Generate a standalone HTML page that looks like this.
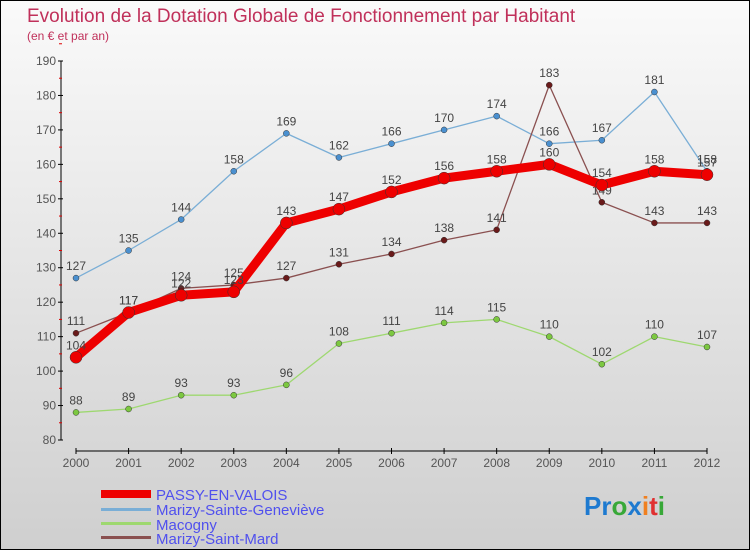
<!DOCTYPE html>
<html><head><meta charset="utf-8"><style>
body{margin:0}
#c{position:relative;width:748px;height:548px;border:1px solid #000;background:linear-gradient(#fafafa,#cfcfcf);font-family:"Liberation Sans",sans-serif;overflow:hidden}
</style></head><body>
<div id="c">
<svg id="s" width="748" height="548" style="position:absolute;left:0;top:0" font-family="Liberation Sans, sans-serif">
<text x="26" y="21" font-size="19" fill="#c0305a">Evolution de la Dotation Globale de Fonctionnement par Habitant</text>
<text x="26" y="39" font-size="12" fill="#c0305a">(en € et par an)</text>
<g id="axes"></g><g id="series"></g>
<g>
<rect x="100" y="489" width="50" height="8" fill="#e00"/>
<text x="155" y="499" font-size="15" fill="#5050ee">PASSY-EN-VALOIS</text>
<rect x="100" y="507" width="50" height="3" fill="#7aaed6"/>
<text x="155" y="514" font-size="15" fill="#5050ee">Marizy-Sainte-Geneviève</text>
<rect x="100" y="521" width="50" height="3" fill="#9ed870"/>
<text x="155" y="529" font-size="15" fill="#5050ee">Macogny</text>
<rect x="100" y="535" width="50" height="3" fill="#8a5050"/>
<text x="155" y="543" font-size="15" fill="#5050ee">Marizy-Saint-Mard</text>
</g>
<text x="583" y="514" font-size="26" font-weight="bold"><tspan fill="#1e7ad0">Pr</tspan><tspan fill="#38a838">o</tspan><tspan fill="#1e7ad0">x</tspan><tspan fill="#f08020">i</tspan><tspan fill="#e03030">t</tspan><tspan fill="#38a838">i</tspan></text>
</svg>
</div>
<script>
const years=[2000,2001,2002,2003,2004,2005,2006,2007,2008,2009,2010,2011,2012];
const yTicks=[80,90,100,110,120,130,140,150,160,170,180,190];
const passy=[104,117,122,123,143,147,152,156,158,160,154,158,157];
const marizySG=[127,135,144,158,169,162,166,170,174,166,167,181,158];
const macogny=[88,89,93,93,96,108,111,114,115,110,102,110,107];
const marizySM=[111,117,124,125,127,131,134,138,141,183,149,143,143];
const NS="http://www.w3.org/2000/svg";
const X=i=>75+i*(706-75)/12;
const Y=v=>439-(v-80)*(379/110);
function mk(t,a,p){const e=document.createElementNS(NS,t);for(const k in a)e.setAttribute(k,a[k]);p.appendChild(e);return e;}
const ax=document.getElementById('axes');
const yl=mk('line',{x1:60,y1:Y(190),x2:60,y2:Y(80),stroke:'#000'},ax);


yTicks.forEach(v=>{
 mk('line',{x1:57,x2:62,y1:Y(v),y2:Y(v),stroke:'#000'},ax);
 mk('line',{x1:58,x2:61,y1:Y(v+5),y2:Y(v+5),stroke:'#d00'},ax);
 const t=mk('text',{x:55,y:Y(v)+4,'font-size':12,fill:'#555','text-anchor':'end'},ax);t.textContent=v;
 
 
});
const xl=mk('line',{x1:75,x2:706,y1:450,y2:450,stroke:'#000'},ax);


years.forEach((yv,i)=>{
 mk('line',{x1:X(i),x2:X(i),y1:447,y2:453,stroke:'#000'},ax);
 const t=mk('text',{x:X(i),y:466,'font-size':12,fill:'#555','text-anchor':'middle'},ax);t.textContent=yv;
 
 
});
const sg=document.getElementById('series');
function draw(data,color,w,r,dot,name){
 const g=mk('g',{},sg);
 
 
 const l=mk('polyline',{points:data.map((v,i)=>X(i)+','+Y(v)).join(' '),fill:'none',stroke:color,'stroke-width':w,'stroke-linejoin':'round'},g);
 
 
 data.forEach((v,i)=>{
  const c=mk('circle',{cx:X(i),cy:Y(v),r:r,fill:dot,stroke:'#333','stroke-width':0.5},g);
  
  
  const t=mk('text',{x:X(i),y:Y(v)-8,'font-size':12,fill:'#444','text-anchor':'middle'},g);t.textContent=v;
  
  
 });
}
draw(marizySG,'#7aaed6',1.3,3,'#4a90d0','series-marizy-sainte-genevieve');
draw(macogny,'#9ed870',1.3,3,'#7cc840','series-macogny');
draw(marizySM,'#8a5050',1.3,3,'#6a1a1a','series-marizy-saint-mard');
draw(passy,'#ee0000',9,6,'#ee0000','series-passy-en-valois');
</script>
</body></html>
